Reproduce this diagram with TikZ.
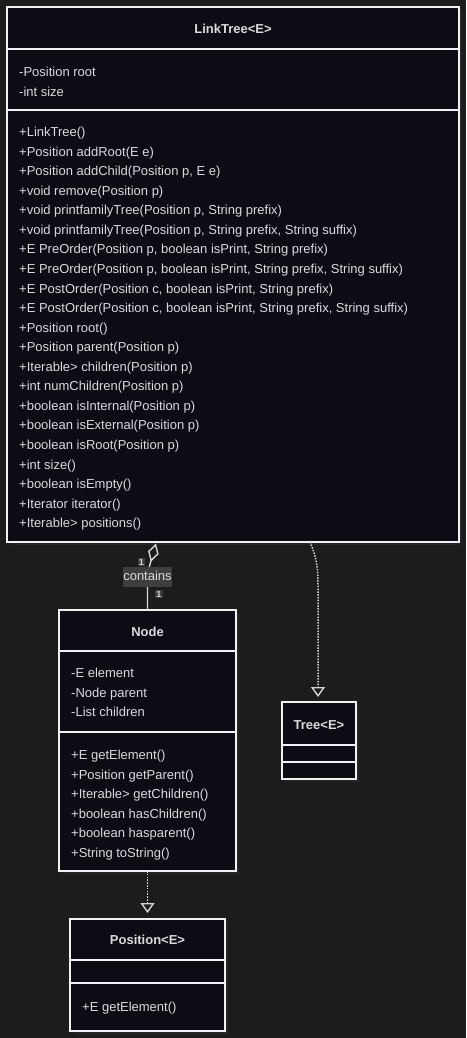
\documentclass[tikz,border=0pt]{standalone}
\usepackage{fontspec}
\setmainfont{Liberation Sans}
\usetikzlibrary{arrows.meta}
\definecolor{bgc}{HTML}{1C1C1C}
\definecolor{boxc}{HTML}{0C0D14}
\definecolor{linec}{HTML}{F2F2F2}
\definecolor{txtc}{HTML}{DADADA}
\definecolor{lblc}{HTML}{3E3E3E}
\definecolor{shc}{HTML}{252525}
\definecolor{conc}{HTML}{D4D4D4}
\begin{document}
\begin{tikzpicture}[x=1pt,y=-1pt,
  umlbox/.style={draw=linec, fill=boxc, line width=1.5pt, inner sep=0pt, outer sep=0pt},
  divl/.style={draw=linec, line width=1.5pt},
  shadowbox/.style={fill=shc},
  txt/.style={text=txtc, font=\fontsize{13pt}{15pt}\selectfont, inner sep=0pt, anchor=west, text height=9.3pt, text depth=0pt},
  ttl/.style={txt, anchor=center, font=\fontsize{13pt}{15pt}\selectfont\bfseries},
  lbl/.style={fill=lblc, text=txtc, font=\fontsize{13pt}{15pt}\selectfont, inner xsep=0.6pt, inner ysep=4pt, text height=9.3pt, text depth=2.6pt},
  mult/.style={fill=lblc, text=txtc, font=\fontsize{9pt}{10pt}\selectfont\bfseries, inner sep=1pt, text height=6.5pt, text depth=0pt},
  conn/.style={draw=conc, line width=1.4pt},
  realz/.style={conn, line width=1.5pt, dash pattern=on 1.5pt off 1.3pt, -{Triangle[open, length=10pt, width=14pt, line width=1.4pt]}},
  aggr/.style={conn, -{Diamond[open, length=19pt, width=11pt, line width=1.4pt]}}
]
\useasboundingbox (0,0) rectangle (466,1038);
\fill[bgc] (0,0) rectangle (466,1038);

% shadows
\fill[shadowbox] (10,10) rectangle (462,545);
\fill[shadowbox] (62,613) rectangle (239,874);
\fill[shadowbox] (285,705) rectangle (359,782);
\fill[shadowbox] (73,921) rectangle (228,1034);

% LinkTree
\node[umlbox, minimum width=452pt, minimum height=535pt] (lt) at (233,274.5) {};
\draw[divl] (lt.west |- 0,49) -- (lt.east |- 0,49);
\draw[divl] (lt.west |- 0,110) -- (lt.east |- 0,110);
\node[ttl] (lt-t) at (233,29) {LinkTree<E>};
\node[txt] (lt-a1) at (19,72) {-Position root};
\node[txt] (lt-a2) at (19,91.5) {-int size};
\foreach \t [count=\i from 0] in {
  {+LinkTree()},
  {+Position addRoot(E e)},
  {+Position addChild(Position p, E e)},
  {+void remove(Position p)},
  {+void printfamilyTree(Position p, String prefix)},
  {+void printfamilyTree(Position p, String prefix, String suffix)},
  {+E PreOrder(Position p, boolean isPrint, String prefix)},
  {+E PreOrder(Position p, boolean isPrint, String prefix, String suffix)},
  {+E PostOrder(Position c, boolean isPrint, String prefix)},
  {+E PostOrder(Position c, boolean isPrint, String prefix, String suffix)},
  {+Position root()},
  {+Position parent(Position p)},
  {+Iterable> children(Position p)},
  {+int numChildren(Position p)},
  {+boolean isInternal(Position p)},
  {+boolean isExternal(Position p)},
  {+boolean isRoot(Position p)},
  {+int size()},
  {+boolean isEmpty()},
  {+Iterator iterator()},
  {+Iterable> positions()}}
  \node[txt] (lt-m\i) at (19,{132+19.55*\i}) {\t};

% Node
\node[umlbox, minimum width=177pt, minimum height=261pt] (nd) at (147.5,740.5) {};
\draw[divl] (nd.west |- 0,651) -- (nd.east |- 0,651);
\draw[divl] (nd.west |- 0,732) -- (nd.east |- 0,732);
\node[ttl] (nd-t) at (147.5,632) {Node};
\node[txt] (nd-a1) at (71,673) {-E element};
\node[txt] (nd-a2) at (71,692.5) {-Node parent};
\node[txt] (nd-a3) at (71,712) {-List children};
\foreach \t [count=\i from 0] in {
  {+E getElement()},
  {+Position getParent()},
  {+Iterable> getChildren()},
  {+boolean hasChildren()},
  {+boolean hasparent()},
  {+String toString()}}
  \node[txt] (nd-m\i) at (71,{755+19.5*\i}) {\t};

% Tree
\node[umlbox, minimum width=74pt, minimum height=77pt] (tr) at (319,740.5) {};
\draw[divl] (tr.west |- 0,745) -- (tr.east |- 0,745);
\draw[divl] (tr.west |- 0,762) -- (tr.east |- 0,762);
\node[ttl] (tr-t) at (319,725) {Tree<E>};

% Position
\node[umlbox, minimum width=155pt, minimum height=112pt] (pos) at (147.5,975) {};
\draw[divl] (pos.west |- 0,960) -- (pos.east |- 0,960);
\draw[divl] (pos.west |- 0,983) -- (pos.east |- 0,983);
\node[ttl] (pos-t) at (147.5,940) {Position<E>};
\node[txt] (pos-m0) at (82,1006.5) {+E getElement()};

% connectors
\coordinate (aggbend) at (147.5,573);
\coordinate (aggtip) at (156,543.5);
\draw[aggr] (nd.north) -- (aggbend) -- (aggtip);
\node[lbl] (contains) at (147.5,577) {contains};
\node[mult] (m1) at (141.5,562) {1};
\node[mult] (m2) at (159,594) {1};

\coordinate (ltr) at ([xshift=77pt]lt.south);
\draw[realz, shorten >=5pt] (ltr) .. controls (316,556) and (318,566) .. (318,586) -- (tr.north -| 318,0);
\draw[realz, shorten >=6pt] (nd.south) -- (pos.north);
\end{tikzpicture}
\end{document}
